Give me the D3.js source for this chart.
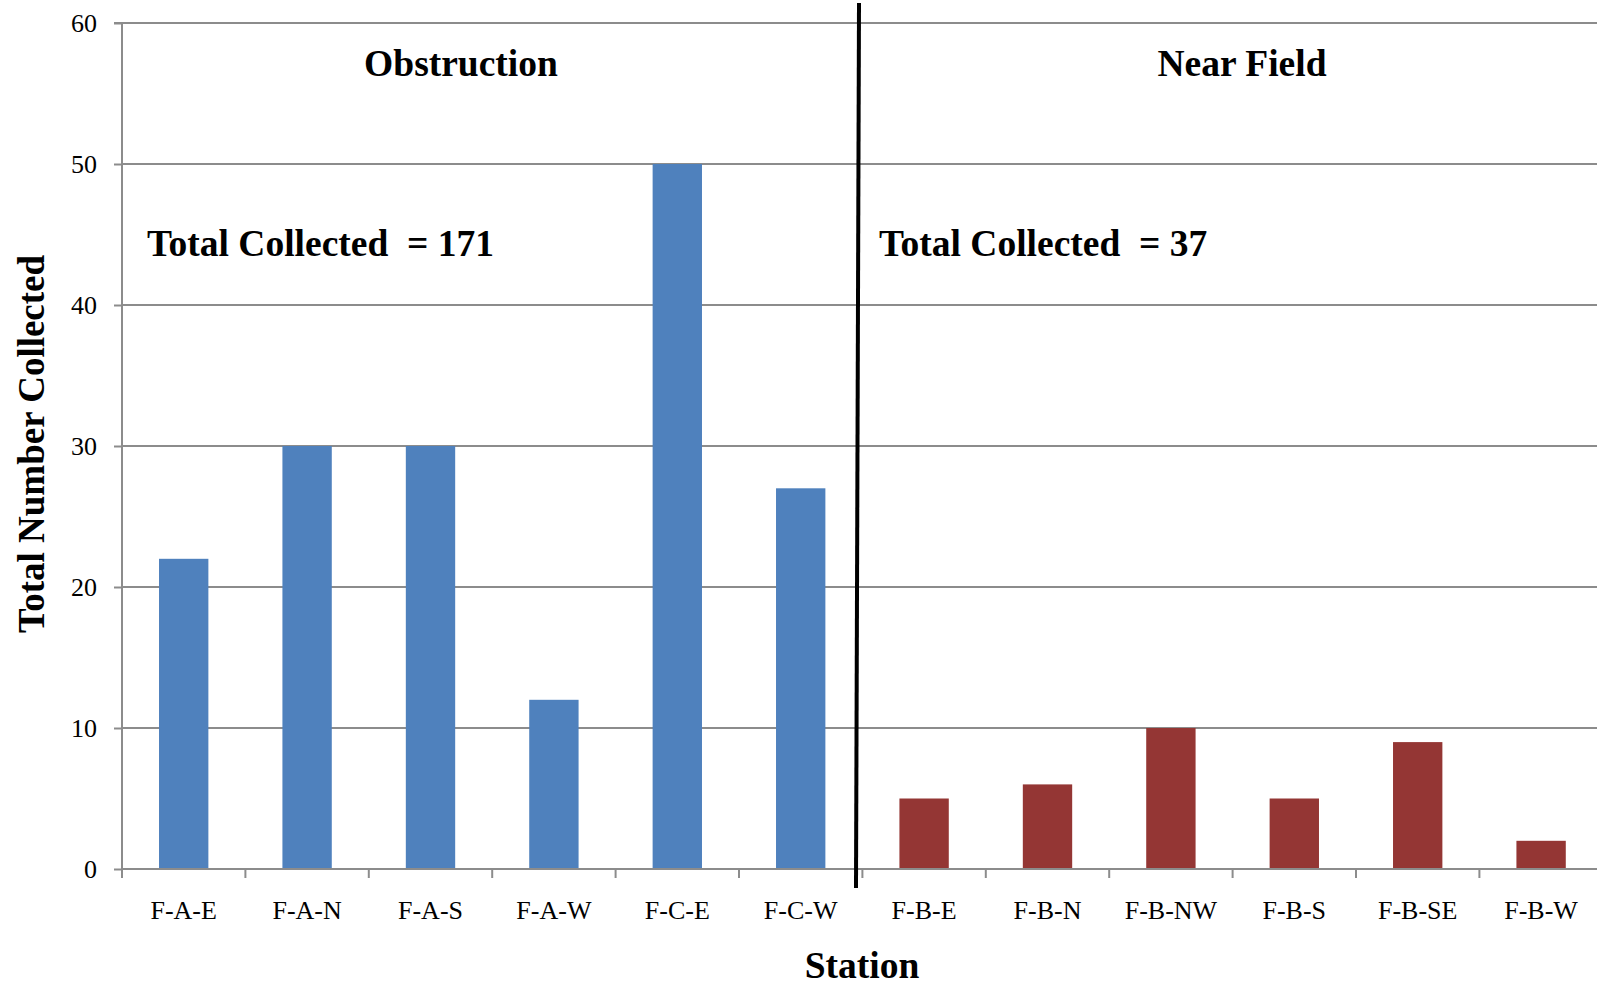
<!DOCTYPE html>
<html><head><meta charset="utf-8">
<script src="https://cdn.jsdelivr.net/npm/d3@7"></script>
<style>body{margin:0;background:#fff}svg{display:block}</style>
</head><body>
<svg id="chart" width="1597" height="985"></svg>
<script>
const stations = ["F-A-E","F-A-N","F-A-S","F-A-W","F-C-E","F-C-W","F-B-E","F-B-N","F-B-NW","F-B-S","F-B-SE","F-B-W"];
const groups   = ["Obstruction","Obstruction","Obstruction","Obstruction","Obstruction","Obstruction","Near Field","Near Field","Near Field","Near Field","Near Field","Near Field"];
const counts   = [22,30,30,12,50,27,5,6,10,5,9,2];
const yTicks   = [0,10,20,30,40,50,60];
const groupTitles = ["Obstruction","Near Field"];
const totalLabels = ["Total Collected  = 171","Total Collected  = 37"];

(function(){
const svg = d3.select("#chart");
const pL = 122, pR = 122 + 12*123.4, pT = 23, pB = 869;
const x = d3.scaleBand().domain(stations).range([pL, pR]).paddingInner(0.6).paddingOuter(0.3);
const xb = d3.scaleBand().domain(stations).range([pL, pR]);
const y = d3.scaleLinear().domain([0,60]).range([pB, pT]);
const color = {"Obstruction":"#4F81BD","Near Field":"#943634"};
const grid = "#8c8c8c";
const serif = "'Liberation Serif','Times New Roman',serif";

// gridlines
svg.append("g").selectAll("line").data(yTicks.filter(d=>d>0)).join("line")
  .attr("x1", pL).attr("x2", 1597).attr("y1", d=>y(d)).attr("y2", d=>y(d))
  .attr("stroke", grid).attr("stroke-width", 2);

// y axis
const yAxis = svg.append("g").attr("transform", `translate(${pL},0)`)
  .call(d3.axisLeft(y).tickValues(yTicks).tickSize(8).tickPadding(17));
yAxis.select(".domain").attr("stroke", grid).attr("stroke-width", 2).attr("d", `M-8,${pT}H0V${pB}`);
yAxis.selectAll(".tick line").attr("stroke", grid).attr("stroke-width", 2);
yAxis.selectAll(".tick text").attr("font-family", serif).attr("font-size", 26).attr("fill","#000").attr("dy","0.34em");

// bars
svg.append("g").selectAll("rect").data(stations).join("rect")
  .attr("x", d=>x(d)).attr("width", x.bandwidth())
  .attr("y", (d,i)=>y(counts[i])).attr("height", (d,i)=>pB - y(counts[i]))
  .attr("fill", (d,i)=>color[groups[i]]);

// x axis
const xAxis = svg.append("g").attr("transform", `translate(0,${pB})`);
xAxis.append("line").attr("x1", pL).attr("x2", 1597).attr("y1",0).attr("y2",0).attr("stroke", grid).attr("stroke-width", 2);
xAxis.selectAll("line.tk").data(d3.range(13)).join("line").attr("class","tk")
  .attr("x1", i=> i<12 ? xb(stations[i]) : pR).attr("x2", i=> i<12 ? xb(stations[i]) : pR)
  .attr("y1",0).attr("y2",9).attr("stroke", grid).attr("stroke-width", 2);
xAxis.selectAll("text").data(stations).join("text")
  .attr("x", d=>xb(d)+xb.bandwidth()/2).attr("y", 50)
  .attr("text-anchor","middle").attr("font-family", serif).attr("font-size", 26).attr("fill","#000")
  .text(d=>d);

// divider line
svg.append("line").attr("x1", 859).attr("y1", 3).attr("x2", 856).attr("y2", 888)
  .attr("stroke","#000").attr("stroke-width", 4);

// group titles
svg.append("g").selectAll("text").data(groupTitles).join("text")
  .attr("x", (d,i)=> i===0 ? 461 : 1242).attr("y", 76)
  .attr("text-anchor","middle").attr("font-family", serif).attr("font-weight","bold").attr("font-size", 37.5)
  .text(d=>d);
svg.append("g").selectAll("text").data(totalLabels).join("text")
  .attr("x", (d,i)=> i===0 ? 147 : 879).attr("y", 256)
  .attr("font-family", serif).attr("font-weight","bold").attr("font-size", 37.5)
  .style("white-space","pre")
  .text(d=>d);

// axis titles
svg.append("text").attr("x", 862).attr("y", 978).attr("text-anchor","middle")
  .attr("font-family", serif).attr("font-weight","bold").attr("font-size", 37.5).text("Station");
svg.append("text").attr("transform","translate(44,444) rotate(-90)").attr("text-anchor","middle")
  .attr("font-family", serif).attr("font-weight","bold").attr("font-size", 37).text("Total Number Collected");
})();
</script>
</body></html>
